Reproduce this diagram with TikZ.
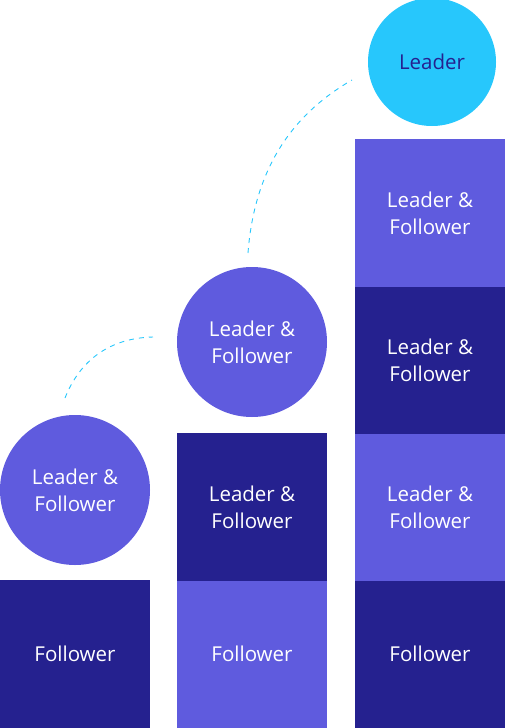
\documentclass[tikz,border=0pt]{standalone}
\usepackage{fontspec}
\setmainfont{Open Sans}
\usepackage{tikz}
\usetikzlibrary{positioning}
\definecolor{DeepBlue}{HTML}{25218F}
\definecolor{SoftBlue}{HTML}{5F5BDE}
\definecolor{SkyCyan}{HTML}{27C7FC}
\tikzset{%
  dark_block/.style={%
    rectangle,%
    fill=DeepBlue,%
    minimum width=150pt,%
    minimum height=147.7pt,%
    inner sep=0pt,%
    text=white,%
    font={\fontsize{20.5}{27}\selectfont},%
    align=center,%
  },
  lite_block/.style={%
    dark_block,%
    fill=SoftBlue,%
  },
  role_circle/.style={%
    circle,%
    fill=SoftBlue,%
    minimum size=150pt,%
    inner sep=0pt,%
    text=white,%
    font={\fontsize{20.5}{27}\selectfont},%
    align=center,%
  },
  top_circle/.style={%
    role_circle,%
    fill=SkyCyan,%
    minimum size=128pt,%
    text=DeepBlue,%
  },
  climb_path/.style={%
    draw=SkyCyan,%
    dash pattern=on 5pt off 5pt,%
    line width=0.9pt,%
  },
}
\begin{document}
\begin{tikzpicture}[x=1pt, y=-1pt]
  \useasboundingbox (0, 0) rectangle (505, 728);

  % first column
  \node [dark_block] (F1) at (75, 654.2) {Follower};
  \node [role_circle] (C1) at (75, 490) {Leader \&\\Follower};

  % second column
  \node [lite_block] (F2) at (252, 654.2) {Follower};
  \node [dark_block, above = -1pt of F2] (M2) {Leader \&\\Follower};
  \node [role_circle] (C2) at (252, 342) {Leader \&\\Follower};

  % third column
  \node [dark_block] (F3) at (430, 654.2) {Follower};
  \node [lite_block, above = -1pt of F3] (M3a) {Leader \&\\Follower};
  \node [dark_block, above = -1pt of M3a] (M3b) {Leader \&\\Follower};
  \node [lite_block, above = -1pt of M3b] (M3c) {Leader \&\\Follower};
  \node [top_circle] (Top) at (432, 62) {Leader};

  \coordinate (c1_from) at (65, 398);
  \coordinate (c1_to) at (153, 337);
  \coordinate (c2_from) at (248, 253);
  \coordinate (c2_to) at (352, 80);

  \draw [climb_path]
    (c1_from) .. controls (80, 360) and (110, 338) .. (c1_to);
  \draw [climb_path]
    (c2_from) .. controls (255, 160) and (300, 110) .. (c2_to);
\end{tikzpicture}
\end{document}
